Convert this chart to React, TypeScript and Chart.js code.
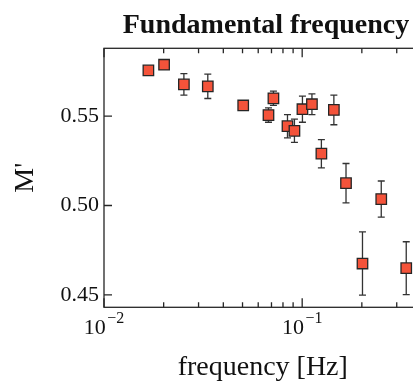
import React, { useEffect, useRef } from 'react';
import { Chart, registerables } from 'chart.js';

Chart.register(...registerables);

// ---- data ----
const frequencies = [0.01675, 0.0201, 0.0253, 0.0334, 0.0504, 0.0676, 0.0716, 0.0843, 0.0914, 0.1003, 0.112, 0.125, 0.1445, 0.1664, 0.2015, 0.2506, 0.335];
const mPrime = [0.5756, 0.5788, 0.5678, 0.5667, 0.556, 0.5506, 0.56, 0.5444, 0.5418, 0.5539, 0.5567, 0.529, 0.5535, 0.5125, 0.4675, 0.5036, 0.4649];
const mError = [0.002, 0.002, 0.006, 0.0068, 0.002, 0.004, 0.004, 0.0065, 0.0065, 0.0073, 0.0058, 0.0079, 0.0083, 0.011, 0.0177, 0.0101, 0.0148];

const xMajorTicks = [0.01, 0.1];
const xMajorExponents = ['\u22122', '\u22121'];
const xMinorTicks = [0.02, 0.03, 0.04, 0.05, 0.06, 0.07, 0.08, 0.09, 0.2, 0.3, 0.4];
const yTicks = [0.45, 0.5, 0.55];

const FONT = "'Liberation Serif', 'Times New Roman', serif";
const TEXT = '#111';
const LINE = '#262626';

const decorations = {
  id: 'decorations',
  beforeDatasetsDraw(chart: any) {
    const { ctx, scales } = chart;
    const x = scales.x;
    const y = scales.y;
    ctx.save();
    ctx.strokeStyle = '#333';
    ctx.lineWidth = 1.3;
    frequencies.forEach((f, i) => {
      const px = x.getPixelForValue(f);
      const top = y.getPixelForValue(mPrime[i] + mError[i]);
      const bot = y.getPixelForValue(mPrime[i] - mError[i]);
      ctx.beginPath();
      ctx.moveTo(px, top);
      ctx.lineTo(px, bot);
      ctx.moveTo(px - 3.5, top);
      ctx.lineTo(px + 3.5, top);
      ctx.moveTo(px - 3.5, bot);
      ctx.lineTo(px + 3.5, bot);
      ctx.stroke();
    });
    ctx.restore();
  },
  afterDraw(chart: any) {
    const { ctx, chartArea: a, scales } = chart;
    const x = scales.x;
    const y = scales.y;
    ctx.save();
    ctx.strokeStyle = LINE;
    ctx.lineWidth = 1.3;
    ctx.strokeRect(a.left, a.top, a.right - a.left, a.bottom - a.top);
    ctx.beginPath();
    const xt = (v: number, len: number) => {
      const px = x.getPixelForValue(v);
      ctx.moveTo(px, a.bottom);
      ctx.lineTo(px, a.bottom - len);
      ctx.moveTo(px, a.top);
      ctx.lineTo(px, a.top + len);
    };
    xMajorTicks.forEach((v) => xt(v, 9));
    xMinorTicks.forEach((v) => xt(v, 5));
    yTicks.forEach((v) => {
      const py = y.getPixelForValue(v);
      ctx.moveTo(a.left, py);
      ctx.lineTo(a.left + 8, py);
      ctx.moveTo(a.right, py);
      ctx.lineTo(a.right - 8, py);
    });
    ctx.stroke();

    // x tick labels: 10^n
    ctx.fillStyle = TEXT;
    ctx.textBaseline = 'alphabetic';
    ctx.textAlign = 'left';
    xMajorTicks.forEach((v, i) => {
      const px = x.getPixelForValue(v);
      ctx.font = `22px ${FONT}`;
      const wBase = ctx.measureText('10').width;
      ctx.font = `16px ${FONT}`;
      const wExp = ctx.measureText(xMajorExponents[i]).width;
      const total = wBase + 1.5 + wExp;
      const start = px - total / 2;
      ctx.font = `22px ${FONT}`;
      ctx.fillText('10', start, a.bottom + 26.5);
      ctx.font = `16px ${FONT}`;
      ctx.fillText(xMajorExponents[i], start + wBase + 1.5, a.bottom + 16);
    });
    ctx.restore();
  },
};

export default function App() {
  const ref = useRef<HTMLCanvasElement | null>(null);

  useEffect(() => {
    if (!ref.current) return;
    const chart = new Chart(ref.current, {
      type: 'scatter',
      data: {
        datasets: [
          {
            data: frequencies.map((f, i) => ({ x: f, y: mPrime[i] })),
            pointStyle: 'rect',
            pointRadius: 7.4,
            pointHoverRadius: 7.4,
            backgroundColor: '#F4533A',
            borderColor: '#262626',
            borderWidth: 1.3,
            xAxisID: 'x',
            yAxisID: 'y',
          },
        ],
      },
      options: {
        responsive: false,
        animation: false,
        events: [],
        layout: { padding: 0 },
        plugins: {
          legend: { display: false },
          tooltip: { enabled: false },
          title: {
            display: true,
            text: 'Fundamental frequency',
            color: TEXT,
            font: { family: FONT, size: 28, weight: 'bold', lineHeight: 1.2 },
            padding: { top: 9.3, bottom: 5.4 },
          },
        },
        scales: {
          x: {
            type: 'logarithmic',
            position: 'bottom',
            min: 0.01,
            max: 0.4,
            grid: { display: false, drawTicks: false },
            border: { display: false },
            ticks: { display: false },
            title: {
              display: true,
              text: 'frequency [Hz]',
              color: TEXT,
              font: { family: FONT, size: 28, lineHeight: 1 },
              padding: { top: 0, bottom: 1 },
            },
            afterFit(s: any) {
              s.height = 75.7;
            },
          },
          y: {
            type: 'linear',
            position: 'left',
            min: 0.443,
            max: 0.588,
            grid: { display: false, drawTicks: false },
            border: { display: false },
            ticks: {
              color: TEXT,
              padding: 5,
              font: { family: FONT, size: 22 },
              callback: (v: any) => Number(v).toFixed(2),
            },
            afterBuildTicks(s: any) {
              s.ticks = yTicks.map((v) => ({ value: v }));
            },
            title: {
              display: true,
              text: "M'",
              color: TEXT,
              font: { family: FONT, size: 28, lineHeight: 1 },
              padding: { top: 11.5, bottom: 0 },
            },
            afterFit(s: any) {
              s.width = 104;
            },
          },
          yR: {
            type: 'linear',
            position: 'right',
            display: true,
            grid: { display: false, drawTicks: false },
            border: { display: false },
            ticks: { display: false },
            afterFit(s: any) {
              s.width = 110.5;
            },
          },
        },
      } as any,
      plugins: [decorations],
    });
    return () => chart.destroy();
  }, []);

  return (
    <div style={{ position: 'fixed', left: 0, top: 0, width: 413, height: 383, overflow: 'hidden', background: '#fff' }}>
      <canvas ref={ref} width={532} height={383} style={{ width: 532, height: 383, display: 'block' }} />
    </div>
  );
}
